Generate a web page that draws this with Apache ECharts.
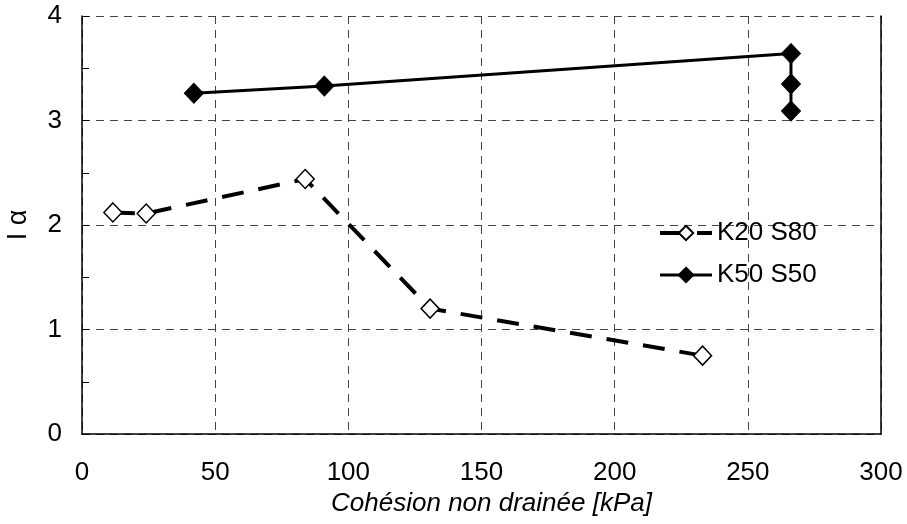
<!DOCTYPE html>
<html>
<head>
<meta charset="utf-8">
<script src="https://cdn.jsdelivr.net/npm/echarts@6/dist/echarts.min.js"></script>
<style>html,body{margin:0;padding:0;background:#fff}#c{width:907px;height:524px}</style>
</head>
<body>
<div id="c"></div>
<script>
var seriesNames = ['K20 S80', 'K50 S50'];
var k20x = [11.6, 24.1, 83.8, 130.7, 233];
var k20y = [2.12, 2.11, 2.44, 1.20, 0.75];
var k50x = [42, 91, 266.2, 266.2, 266.2];
var k50y = [3.26, 3.33, 3.64, 3.35, 3.09];
var xTicks = [0, 50, 100, 150, 200, 250, 300];
var yTicks = [0, 1, 2, 3, 4];
var xName = 'Cohésion non drainée [kPa]';
var yName = 'I α';

function pairs(xs, ys) { return xs.map(function (x, i) { return [x, ys[i]]; }); }

var font = 'Liberation Sans, Arial, sans-serif';
var chart = echarts.init(document.getElementById('c'), null, {renderer: 'canvas'});
var gridDash = {color: '#444', width: 1, type: [8, 6]};
var k20Line = {color: '#000', width: 4, type: [22, 15]};
var k50Line = {color: '#000', width: 3, type: 'solid'};
chart.setOption({
  animation: false,
  backgroundColor: '#fff',
  textStyle: {fontFamily: font, color: '#000'},
  grid: {left: 82, right: 26, top: 16, bottom: 90, containLabel: false, outerBoundsMode: 'none'},
  legend: {
    orient: 'vertical', left: 658, top: 220, padding: 0, itemWidth: 52, itemHeight: 18, itemGap: 16,
    textStyle: {fontSize: 26, color: '#000', fontFamily: font},
    data: [
      {name: seriesNames[0], lineStyle: k20Line},
      {name: seriesNames[1], lineStyle: k50Line}
    ]
  },
  xAxis: {
    type: 'value', min: xTicks[0], max: xTicks[xTicks.length - 1], interval: 50,
    name: xName, nameLocation: 'middle', nameGap: 56,
    nameTextStyle: {fontSize: 26, fontStyle: 'italic', color: '#000', fontFamily: font, padding: [0, 0, 0, 20]},
    axisLine: {show: true, onZero: false, lineStyle: {color: '#000', width: 1.5}},
    axisTick: {show: false},
    axisLabel: {fontSize: 26, color: '#000', margin: 26, fontFamily: font},
    splitLine: {show: true, lineStyle: gridDash}
  },
  yAxis: [{
    type: 'value', min: yTicks[0], max: yTicks[yTicks.length - 1], interval: 1,
    name: yName, nameLocation: 'middle', nameGap: 50, nameRotate: 90,
    nameTextStyle: {fontSize: 27, color: '#000', fontFamily: font},
    axisLine: {show: true, lineStyle: {color: '#000', width: 1.5}},
    axisTick: {show: true, inside: true, length: 7, lineStyle: {color: '#000', width: 1}},
    minorTick: {show: true, splitNumber: 2, length: 7, lineStyle: {color: '#000', width: 1}},
    axisLabel: {fontSize: 26, color: '#000', margin: 20, fontFamily: font},
    splitLine: {show: true, lineStyle: gridDash}
  }, {
    type: 'value', position: 'right', min: 0, max: 4, interval: 1,
    axisLine: {show: true, lineStyle: {color: '#000', width: 1.5}},
    axisTick: {show: false}, axisLabel: {show: false}, splitLine: {show: false}
  }],
  series: [{
    name: seriesNames[0], type: 'line', data: pairs(k20x, k20y),
    symbol: 'diamond', symbolSize: [18, 19],
    lineStyle: k20Line,
    itemStyle: {color: '#fff', borderColor: '#000', borderWidth: 1.5},
    z: 3
  }, {
    name: seriesNames[1], type: 'line', data: pairs(k50x, k50y),
    symbol: 'diamond', symbolSize: [19, 20],
    lineStyle: k50Line,
    itemStyle: {color: '#000', borderColor: '#000', borderWidth: 1},
    z: 3
  }]
});
</script>
</body>
</html>
